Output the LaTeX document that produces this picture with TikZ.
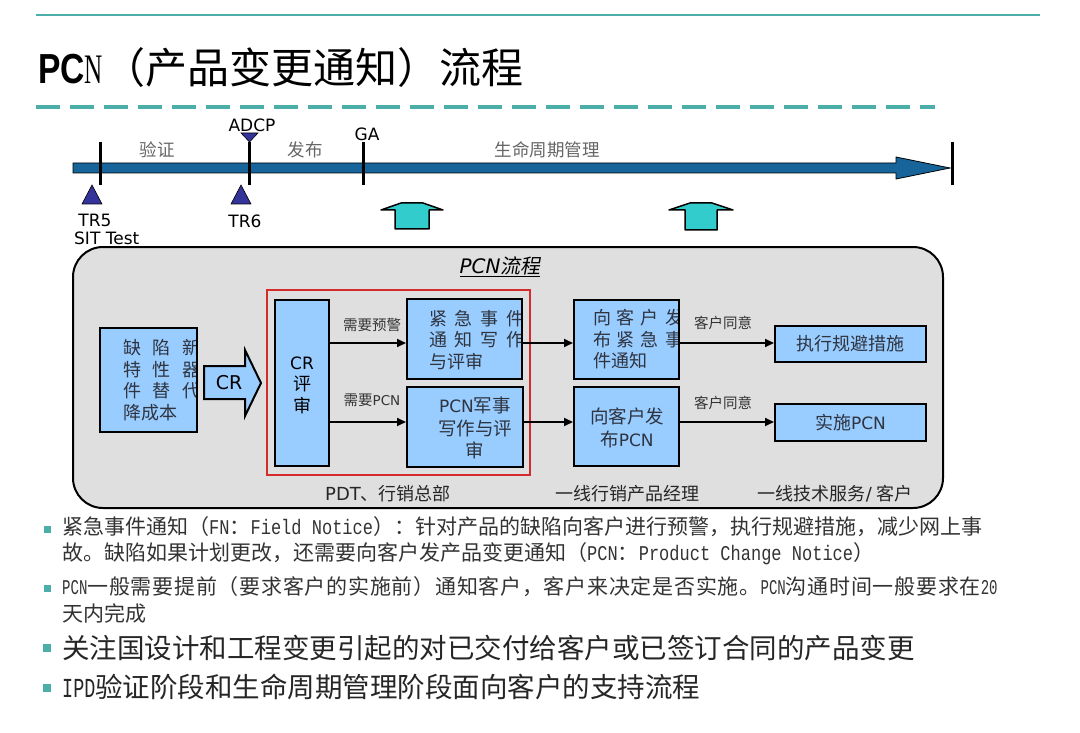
\documentclass[tikz,border=0pt]{standalone}
\usepackage{fontspec}
\setmainfont{Noto Sans CJK SC}
\newfontfamily\cjkslant[FakeSlant=0.18]{Noto Sans CJK SC}
\newfontfamily\cjkwide[LetterSpace=3.5]{Noto Sans CJK SC}
\newfontfamily\lat{DejaVu Sans}
\newfontfamily\ttlsans[FakeStretch=0.8]{Liberation Sans}
\newfontfamily\ttlserif[FakeStretch=0.6]{Liberation Serif}
\newfontfamily\monow[FakeStretch=0.81]{Liberation Mono}
\newfontfamily\monon[FakeStretch=0.67]{Liberation Mono}
\usetikzlibrary{arrows.meta}
\definecolor{tealline}{HTML}{4BAEA8}
\definecolor{barblue}{HTML}{17649A}
\definecolor{arrcyan}{HTML}{33CCCC}
\definecolor{boxblue}{HTML}{99CCFF}
\definecolor{panelgray}{HTML}{DFDFDF}
\definecolor{trinavy}{HTML}{333399}
\definecolor{redframe}{HTML}{D42B2B}
\definecolor{phasegray}{HTML}{666666}
\definecolor{boxtext}{HTML}{2E3440}
\newcommand\chgap[1]{\hspace{#1}}
\tikzset{
  nbox/.style={draw=black, line width=2pt, fill=boxblue, inner sep=0pt},
  boxtxt/.style={inner sep=0pt, text=boxtext, font=\fontsize{18}{21.5}\selectfont},
  cliptxt/.style={boxtxt, anchor=west, align=left, draw=none, fill=none,
    minimum width=0pt, minimum height=0pt},
  conn/.style={line width=1.8pt, -{Triangle[length=9pt,width=8pt]}},
  flowlbl/.style={inner sep=0pt, text=black!80, font=\fontsize{14.5}{17}\selectfont},
  phaselbl/.style={inner sep=0pt, text=phasegray, font=\fontsize{17.5}{20}\selectfont},
  milelbl/.style={inner sep=0pt, text=black, font=\lat\fontsize{17}{20}\selectfont},
  tick/.style={line width=3pt, black},
  tri/.style={fill=trinavy, draw=black, line width=0.6pt},
  uparrow/.style={fill=arrcyan, draw=black, line width=1.5pt, line join=round},
  lanelbl/.style={inner sep=0pt, text=black!85, font=\fontsize{18}{21}\selectfont},
  bullet/.style={fill=tealline},
  bul1/.style={inner sep=0pt, anchor=west, text=black!80, font=\fontsize{21}{25}\selectfont},
  bul2/.style={inner sep=0pt, anchor=west, text=black!85, font=\fontsize{27.5}{32}\selectfont}
}
\begin{document}
\begin{tikzpicture}[x=1pt,y=-1pt]
\useasboundingbox (0,0) rectangle (1080,733);
\fill[white] (0,0) rectangle (1080,733);

% header
\draw[tealline, line width=1.5pt] (36,15) -- (1040,15);
\node[inner sep=0pt, anchor=west, font=\fontsize{42}{48}\selectfont] (title) at (38,68)
  {{\ttlsans\bfseries PC}{\ttlserif N}（产品变更通知）流程};
\draw[tealline, line width=3.5pt, dash pattern=on 24pt off 10pt] (36,107) -- (935,107);

% timeline
\draw[fill=barblue, draw=black, line width=0.8pt]
  (73,163) -- (896,163) -- (896,157) -- (950,168) -- (896,179) -- (896,173) -- (73,173) -- cycle;
\draw[tick] (100,142) -- (100,185);
\draw[tick] (249,142) -- (249,185);
\draw[tick] (363,142) -- (363,185);
\draw[tick] (952,142) -- (952,185);
\draw[tri] (241,133) -- (258,133) -- (249.5,142) -- cycle;
\draw[tri] (82,204) -- (102,204) -- (92,185) -- cycle;
\draw[tri] (231,204) -- (251,204) -- (241,185) -- cycle;

\node[phaselbl] (ph1) at (157,150) {验证};
\node[phaselbl] (ph2) at (305,150) {发布};
\node[phaselbl] (ph3) at (547,150) {生命周期管理};
\node[milelbl] (adcp) at (252,125) {ADCP};
\node[milelbl] (ga) at (367,134) {GA};
\node[milelbl] (tr5) at (95,220) {TR5};
\node[milelbl, anchor=west] (sit) at (74,238) {SIT Test};
\node[milelbl] (tr6) at (245,221) {TR6};

\draw[uparrow] (381,210) -- (401,203) -- (423,203) -- (443,210) -- (429,210)
  -- (429,229) -- (395,229) -- (395,210) -- cycle;
\draw[uparrow] (669,210) -- (690,203) -- (712,203) -- (733,210) -- (717,210)
  -- (717,230) -- (685,230) -- (685,210) -- cycle;

% panel
\draw[fill=panelgray, line width=2pt, rounded corners=30pt] (73,247) rectangle (943,508);
\node[inner sep=0pt, font=\fontsize{20}{24}\selectfont] (paneltitle) at (500,267)
  {\underline{{\lat\itshape PCN}{\cjkslant 流程}}};
\draw[redframe, line width=2.5pt] (267,290) rectangle (530,475);

% boxes
\node[nbox, minimum width=97pt, minimum height=104pt,
  path picture={\node[cliptxt] (defecttxt)
    at ([xshift=22pt]path picture bounding box.west)
    {缺\chgap{12pt}陷\chgap{12pt}新\\特\chgap{12pt}性\chgap{12pt}器\\件\chgap{12pt}替\chgap{12pt}代\\降成本};}]
  (defect) at (148.5,380) {};

\draw[fill=boxblue, draw=black, line width=2pt, line join=miter]
  (204,366) -- (245,366) -- (245,350) -- (261,383) -- (245,416) -- (245,399) -- (204,399) -- cycle;
\node[inner sep=0pt, font=\lat\fontsize{19}{22}\selectfont] (crarrow) at (229,383) {CR};

\node[nbox, minimum width=54pt, minimum height=166pt] (cr) at (302,383) {};
\node[boxtxt, align=center, text=black] (crtxt) at (302,385)
  {{\lat\fontsize{17}{21.5}\selectfont CR}\\评\\审};

\node[nbox, minimum width=115pt, minimum height=80pt,
  path picture={\node[cliptxt] (fntxt)
    at ([xshift=21pt,yshift=-1pt]path picture bounding box.west)
    {紧\chgap{8pt}急\chgap{8pt}事\chgap{8pt}件\\通\chgap{8pt}知\chgap{8pt}写\chgap{8pt}作\\与评审};}]
  (fn) at (464.5,339) {};

\node[nbox, minimum width=116pt, minimum height=80pt] (pcnw) at (465,427) {};
\node[boxtxt, align=center, font=\fontsize{18.5}{22.5}\selectfont] (pcnwtxt) at (475,428)
  {{\lat\fontsize{17}{22.5}\selectfont PCN}军事\\写作与评\\审};

\node[nbox, minimum width=105pt, minimum height=79pt,
  path picture={\node[cliptxt] (pubfntxt)
    at ([xshift=18pt]path picture bounding box.west)
    {向\chgap{6pt}客\chgap{6pt}户\chgap{6pt}发\\布\chgap{6pt}紧\chgap{6pt}急\chgap{6pt}事\\件通知};}]
  (pubfn) at (626.5,339.5) {};

\node[nbox, minimum width=105pt, minimum height=79pt] (pubpcn) at (626.5,426.5) {};
\node[boxtxt, align=center, font=\fontsize{18.5}{22.5}\selectfont] (pubpcntxt) at (627,428)
  {向客户发\\布{\lat\fontsize{17}{22.5}\selectfont PCN}};

\node[nbox, minimum width=151pt, minimum height=36pt] (exec) at (850.5,344) {};
\node[boxtxt] (exectxt) at (850.5,344) {执行规避措施};
\node[nbox, minimum width=151pt, minimum height=37pt] (impl) at (850.5,422.5) {};
\node[boxtxt] (impltxt) at (850.5,422.5) {实施{\lat\fontsize{17}{20}\selectfont PCN}};

% connectors
\draw[conn] (cr.east |- 0,343) -- (fn.west |- 0,343);
\draw[conn] (cr.east |- 0,422) -- (pcnw.west |- 0,422);
\draw[conn] (fn.east |- 0,343) -- (pubfn.west |- 0,343);
\draw[conn] (pcnw.east |- 0,422) -- (pubpcn.west |- 0,422);
\draw[conn] (pubfn.east |- 0,343) -- (exec.west |- 0,343);
\draw[conn] (pubpcn.east |- 0,422) -- (impl.west |- 0,422);

\node[flowlbl] (l1) at (372,325) {需要预警};
\node[flowlbl] (l2) at (372,400) {需要{\lat\fontsize{13.5}{17}\selectfont PCN}};
\node[flowlbl] (l3) at (723,323) {客户同意};
\node[flowlbl] (l4) at (723,403) {客户同意};

\node[lanelbl] (lane1) at (388,494) {{\lat PDT}、行销总部};
\node[lanelbl] (lane2) at (627,494) {一线行销产品经理};
\node[lanelbl] (lane3) at (835,494) {一线技术服务{\lat /} 客户};

% bullets
\fill[bullet] (43.5,525.5) rectangle (50.5,532.5);
\fill[bullet] (43.5,584.5) rectangle (50.5,591.5);
\fill[bullet] (43,644) rectangle (51,652);
\fill[bullet] (43,684) rectangle (51,692);

\node[bul1] (b1a) at (62,527) {紧急事件通知（{\monow FN}：{\monow Field Notice}）：针对产品的缺陷向客户进行预警，执行规避措施，减少网上事};
\node[bul1] (b1b) at (62,554) {故。缺陷如果计划更改，还需要向客户发产品变更通知（{\monow PCN}：{\monow Product Change Notice}）};
\node[bul1] (b2a) at (62,587) {{\monon PCN}{\cjkwide 一般需要提前（要求客户的实施前）通知客户，客户来决定是否实施。}{\monon PCN}{\cjkwide 沟通时间一般要求在}{\monon 20}};
\node[bul1] (b2b) at (62,613) {天内完成};
\node[bul2] (b3) at (62,648) {关注国设计和工程变更引起的对已交付给客户或已签订合同的产品变更};
\node[bul2] (b4) at (62,687) {{\monon IPD}验证阶段和生命周期管理阶段面向客户的支持流程};
\end{tikzpicture}
\end{document}
